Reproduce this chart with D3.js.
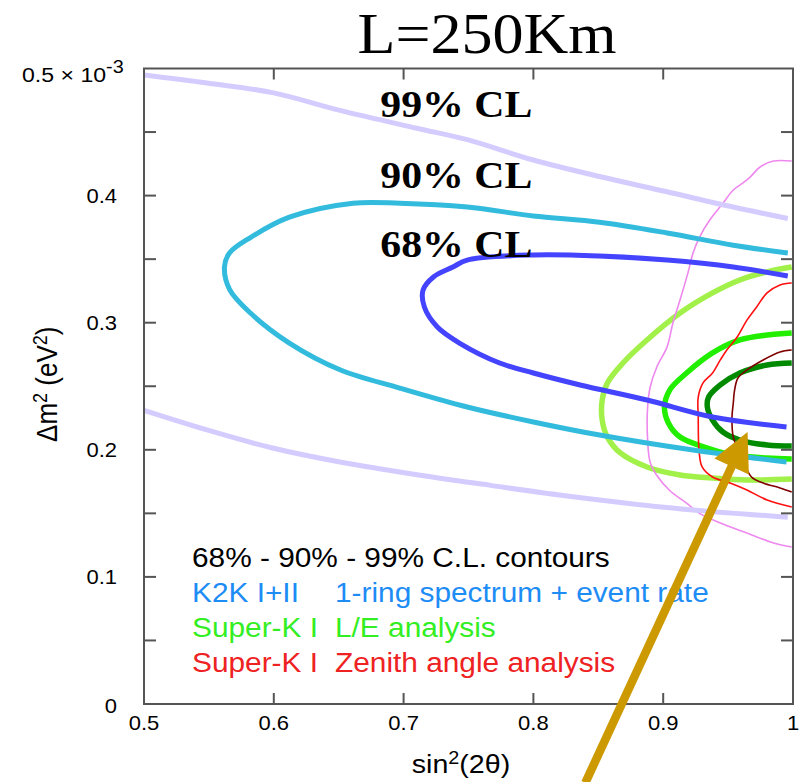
<!DOCTYPE html>
<html>
<head>
<meta charset="utf-8">
<script src="https://cdn.jsdelivr.net/npm/d3@7"></script>
<style>
body { margin: 0; background: #fff; }
</style>
</head>
<body>
<div id="chart"></div>
<script>
// axes
const xTickValues = [0.5, 0.6, 0.7, 0.8, 0.9, 1];
const xTickLabels = ["0.5", "0.6", "0.7", "0.8", "0.9", "1"];
const yTickValues = [0, 0.1, 0.2, 0.3, 0.4];
const yTickLabels = ["0", "0.1", "0.2", "0.3", "0.4"];
const yMinorValues = [0.05, 0.1, 0.15, 0.2, 0.25, 0.3, 0.35, 0.4, 0.45];

// contours, [sin^2(2theta), dm^2 in 1e-3 eV^2]
const k2k99Upper = [[0.499, 0.495], [0.5485, 0.4886], [0.599, 0.481], [0.651, 0.467], [0.710, 0.453],
  [0.749, 0.444], [0.800, 0.428], [0.851, 0.415], [0.903, 0.403], [0.954, 0.391], [0.996, 0.382]];
const k2k99Lower = [[0.499, 0.2313], [0.5485, 0.2156], [0.599, 0.2014], [0.651, 0.1904], [0.713, 0.180],
  [0.767, 0.172], [0.820, 0.1644], [0.872, 0.158], [0.923, 0.1526], [0.996, 0.147]];
const k2k90 = [[0.996, 0.3548], [0.954, 0.361], [0.903, 0.3706], [0.851, 0.379], [0.800, 0.384],
  [0.749, 0.391], [0.697, 0.394], [0.661, 0.394], [0.612, 0.383], [0.582, 0.367], [0.566, 0.355],
  [0.562, 0.344], [0.566, 0.326], [0.582, 0.3076], [0.612, 0.284], [0.651, 0.263], [0.697, 0.2486],
  [0.749, 0.2337], [0.800, 0.2219], [0.851, 0.2116], [0.923, 0.1998], [0.995, 0.1904]];
const k2k68 = [[0.996, 0.3367], [0.954, 0.3438], [0.903, 0.3493], [0.851, 0.3525], [0.800, 0.3533],
  [0.749, 0.3493], [0.738, 0.3438], [0.723, 0.336], [0.715, 0.3257], [0.716, 0.3123], [0.726, 0.2966],
  [0.743, 0.284], [0.774, 0.2683], [0.800, 0.2604], [0.836, 0.251], [0.8875, 0.2392], [0.938, 0.2258],
  [0.995, 0.218]];
const le99 = [[0.999, 0.3438], [0.980, 0.340], [0.959, 0.3336], [0.938, 0.3234], [0.913, 0.3076],
  [0.8875, 0.2864], [0.869, 0.2683], [0.857, 0.2526], [0.853, 0.2392], [0.853, 0.2234], [0.857, 0.210],
  [0.867, 0.1975], [0.8875, 0.1865], [0.913, 0.1802], [0.938, 0.1778], [0.965, 0.1762], [0.999, 0.177]];
const le90 = [[0.999, 0.2919], [0.980, 0.2903], [0.959, 0.2864], [0.938, 0.2762], [0.918, 0.2604],
  [0.905, 0.247], [0.901, 0.2337], [0.904, 0.2211], [0.913, 0.210], [0.934, 0.2014], [0.954, 0.1959],
  [0.980, 0.1935], [0.999, 0.1928]];
const le68 = [[0.999, 0.2683], [0.980, 0.2667], [0.959, 0.2604], [0.944, 0.251], [0.935, 0.2415],
  [0.934, 0.2337], [0.938, 0.2234], [0.946, 0.214], [0.959, 0.2077], [0.980, 0.2038], [0.999, 0.203]];
const zen99 = [[0.999, 0.4272], [0.985, 0.4272], [0.9746, 0.4225], [0.967, 0.4146], [0.9615, 0.410],
  [0.954, 0.4044], [0.946, 0.394], [0.936, 0.381], [0.928, 0.3674], [0.923, 0.3548], [0.919, 0.339],
  [0.913, 0.318], [0.9075, 0.2998], [0.903, 0.281], [0.895, 0.265], [0.890, 0.2494], [0.888, 0.2337],
  [0.888, 0.2077], [0.890, 0.190], [0.895, 0.180], [0.905, 0.168], [0.918, 0.158], [0.928, 0.150],
  [0.944, 0.1424], [0.9645, 0.1345], [0.985, 0.1267], [0.999, 0.1235]];
const zen90 = [[0.999, 0.3312], [0.990, 0.3297], [0.980, 0.3234], [0.972, 0.3124], [0.9645, 0.302],
  [0.957, 0.2887], [0.949, 0.2785], [0.944, 0.2707], [0.938, 0.2604], [0.9307, 0.2526], [0.927, 0.2415],
  [0.927, 0.2258], [0.9276, 0.1998], [0.930, 0.1865], [0.938, 0.1786], [0.9515, 0.1739], [0.9645, 0.1684],
  [0.980, 0.1605], [0.999, 0.155]];
const zen68 = [[0.999, 0.2785], [0.990, 0.277], [0.977, 0.2707], [0.9645, 0.2628], [0.9576, 0.2565],
  [0.955, 0.247], [0.954, 0.2368], [0.953, 0.2258], [0.954, 0.210], [0.959, 0.1975], [0.968, 0.1786],
  [0.977, 0.1739], [0.990, 0.170], [0.999, 0.1668]];

// CL labels and arrow, in data units
const clLabels = ["99% CL", "90% CL", "68% CL"];
const clLabelPos = [[0.682, 0.4618], [0.682, 0.406], [0.682, 0.3517]];
const arrowFrom = [0.84, -0.062];
const arrowTo = [0.965, 0.214];

const legendLines = [
    { left: "68% - 90% - 99% C.L. contours", right: "", color: "#000000" },
    { left: "K2K I+II", right: "1-ring spectrum + event rate", color: "#1e8cf5" },
    { left: "Super-K I", right: "L/E analysis", color: "#33ee22" },
    { left: "Super-K I", right: "Zenith angle analysis", color: "#ee2222" }
];

const W = 799, H = 782;
const plot = { left: 144, right: 793, top: 68.5, bottom: 704 };
const stretch = 1.1; // the original picture is a bit wider than tall
const sans = "'Liberation Sans', Arial, sans-serif";
const serif = "'Liberation Serif', 'Times New Roman', serif";

const svg = d3.select("#chart")
    .append("svg")
    .attr("width", W)
    .attr("height", H)
    .style("background-color", "#fff");

const x = d3.scaleLinear().domain([0.5, 1]).range([plot.left, plot.right]);
const y = d3.scaleLinear().domain([0, 0.5]).range([plot.bottom, plot.top]);

const stretchedText = (parent, px, py, k) =>
    parent.append("text").attr("transform", `translate(${px},${py}) scale(${k},1)`);

svg.append("clipPath").attr("id", "clip")
    .append("rect")
    .attr("x", plot.left).attr("y", plot.top)
    .attr("width", plot.right - plot.left).attr("height", plot.bottom - plot.top);

// title
stretchedText(svg, 487, 53, 1.07)
    .attr("text-anchor", "middle")
    .style("font-family", serif)
    .style("font-size", "58px")
    .text("L=250Km");

const line = d3.line()
    .x(d => x(d[0]))
    .y(d => y(d[1]))
    .curve(d3.curveCatmullRom.alpha(0.5));

const curves = [
    { data: le99, color: "#a2f04a", width: 5.5 },
    { data: le90, color: "#22ee00", width: 5.5 },
    { data: le68, color: "#008a00", width: 5.5 },
    { data: zen99, color: "#ee88ee", width: 1.6 },
    { data: zen90, color: "#ff1010", width: 1.6 },
    { data: zen68, color: "#800000", width: 1.6 },
    { data: k2k99Upper, color: "#d4ccff", width: 5 },
    { data: k2k99Lower, color: "#d4ccff", width: 5 },
    { data: k2k90, color: "#33bbdd", width: 5 },
    { data: k2k68, color: "#4444ff", width: 5 }
];

svg.append("g")
    .attr("clip-path", "url(#clip)")
    .selectAll("path")
    .data(curves)
    .join("path")
    .attr("d", d => line(d.data))
    .attr("fill", "none")
    .attr("stroke", d => d.color)
    .attr("stroke-width", d => d.width)
    .attr("stroke-linejoin", "round");

// CL labels
clLabels.forEach((t, i) => {
    stretchedText(svg, x(clLabelPos[i][0]), y(clLabelPos[i][1]), stretch)
        .style("font-family", serif)
        .style("font-weight", "bold")
        .style("font-size", "38px")
        .text(t);
});

// frame and ticks
const axisColor = "#555";
svg.append("rect")
    .attr("x", plot.left).attr("y", plot.top)
    .attr("width", plot.right - plot.left).attr("height", plot.bottom - plot.top)
    .attr("fill", "none")
    .attr("stroke", axisColor)
    .attr("stroke-width", 2);

const ticks = svg.append("g").attr("stroke", axisColor).attr("stroke-width", 2);
ticks.selectAll(".yl").data(yMinorValues).join("line")
    .attr("x1", plot.left).attr("x2", plot.left + 12)
    .attr("y1", d => y(d)).attr("y2", d => y(d));
ticks.selectAll(".yr").data(yMinorValues).join("line")
    .attr("x1", plot.right).attr("x2", plot.right - 12)
    .attr("y1", d => y(d)).attr("y2", d => y(d));
ticks.selectAll(".xb").data(xTickValues.slice(1, -1)).join("line")
    .attr("x1", d => x(d)).attr("x2", d => x(d))
    .attr("y1", plot.bottom).attr("y2", plot.bottom - 11);
ticks.selectAll(".xt").data(xTickValues.slice(1, -1)).join("line")
    .attr("x1", d => x(d)).attr("x2", d => x(d))
    .attr("y1", plot.top).attr("y2", plot.top + 11);

// tick labels
const tickLabels = svg.append("g")
    .style("font-family", sans)
    .style("font-size", "20px");
xTickValues.forEach((v, i) => {
    stretchedText(tickLabels, x(v), plot.bottom + 26, stretch)
        .attr("text-anchor", "middle")
        .text(xTickLabels[i]);
});
yTickValues.forEach((v, i) => {
    stretchedText(tickLabels, plot.left - 27, y(v) + (v === 0 ? 9 : 7), stretch)
        .attr("text-anchor", "end")
        .text(yTickLabels[i]);
});

const expo = stretchedText(svg, 22, 82, stretch)
    .style("font-family", sans)
    .style("font-size", "21px");
expo.append("tspan").text("0.5 \u00d7 10");
expo.append("tspan").attr("dy", -9).style("font-size", "18px").text("-3");

// axis titles
const xTitle = stretchedText(svg, 461, 773, stretch)
    .attr("text-anchor", "middle")
    .style("font-family", sans)
    .style("font-size", "26px");
xTitle.append("tspan").text("sin");
xTitle.append("tspan").attr("dy", -9).style("font-size", "18px").text("2");
xTitle.append("tspan").attr("dy", 9).text("(2\u03b8)");

const yTitle = svg.append("text")
    .attr("transform", `translate(57, ${y(0.25) - 2}) rotate(-90) scale(1, ${stretch})`)
    .attr("text-anchor", "middle")
    .style("font-family", sans)
    .style("font-size", "26px");
yTitle.append("tspan").text("\u0394m");
yTitle.append("tspan").attr("dy", -9).style("font-size", "18px").text("2");
yTitle.append("tspan").attr("dy", 9).text(" (eV");
yTitle.append("tspan").attr("dy", -9).style("font-size", "18px").text("2");
yTitle.append("tspan").attr("dy", 9).text(")");

// legend
const legend = svg.append("g")
    .style("font-family", sans)
    .style("font-size", "27px");
legendLines.forEach((l, i) => {
    stretchedText(legend, 192, 567 + i * 35, 1.105)
        .attr("fill", l.color)
        .text(l.left);
    if (l.right) {
        stretchedText(legend, 335, 567 + i * 35, 1.105)
            .attr("fill", l.color)
            .text(l.right);
    }
});

// arrow
const p0 = [x(arrowFrom[0]), y(arrowFrom[1])];
const p1 = [x(arrowTo[0]), y(arrowTo[1])];
const len = Math.hypot(p1[0] - p0[0], p1[1] - p0[1]);
const u = [(p1[0] - p0[0]) / len, (p1[1] - p0[1]) / len];
const headLen = 38, headHalf = 19;
const base = [p1[0] - u[0] * headLen, p1[1] - u[1] * headLen];
svg.append("line")
    .attr("x1", p0[0]).attr("y1", p0[1])
    .attr("x2", base[0] + u[0] * 2).attr("y2", base[1] + u[1] * 2)
    .attr("stroke", "#cc9900")
    .attr("stroke-width", 8.5);
svg.append("polygon")
    .attr("points", [
        p1,
        [base[0] - u[1] * headHalf, base[1] + u[0] * headHalf],
        [base[0] + u[1] * headHalf, base[1] - u[0] * headHalf]
    ].map(p => p.join(",")).join(" "))
    .attr("fill", "#cc9900");
</script>
</body>
</html>
